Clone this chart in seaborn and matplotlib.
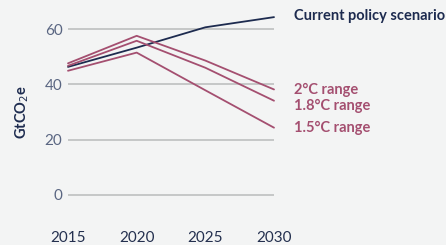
import pandas as pd
import matplotlib.pyplot as plt
import seaborn as sns

years = [2015, 2020, 2025, 2030]
current_policy = [46.4, 53.4, 60.8, 64.5]
range_2c = [47.7, 57.7, 48.7, 38.2]
range_18c = [46.8, 55.9, 46.1, 34.1]
range_15c = [45.0, 51.6, 37.9, 24.3]

series_names = ["Current policy scenario", "2°C range", "1.8°C range", "1.5°C range"]

navy = "#1d2b4f"
pink = "#a44f70"
bg = "#f3f4f4"

sns.set_theme(style="white")
plt.rcParams["font.family"] = ["Lato", "DejaVu Sans"]

df = pd.DataFrame({
    "year": years * 4,
    "value": current_policy + range_2c + range_18c + range_15c,
    "series": [s for s in series_names for _ in years],
})
palette = {series_names[0]: navy, series_names[1]: pink,
           series_names[2]: pink, series_names[3]: pink}

fig = plt.figure(figsize=(4.46, 2.45), dpi=100, facecolor=bg)
ax = fig.add_axes([68 / 446, 23 / 245, 206 / 446, 220 / 245])
ax.set_facecolor(bg)

for y in [0, 20, 40, 60]:
    ax.axhline(y, color="#b9bbbb", linewidth=1.1, zorder=0)

sns.lineplot(data=df, x="year", y="value", hue="series", palette=palette,
             linewidth=1.3, legend=False, ax=ax, clip_on=False)

ax.set_xlim(2015, 2030)
ax.set_ylim(-10, 70)
ax.set_xticks(years)
ax.set_yticks([0, 20, 40, 60])
ax.tick_params(axis="x", length=0, pad=6.5, labelsize=11, labelcolor="#24304f")
ax.tick_params(axis="y", length=0, pad=4, labelsize=11, labelcolor="#5a6682")
sns.despine(ax=ax, left=True, bottom=True)
ax.set_xlabel("")
ax.set_ylabel("GtCO$_2$e", color=navy, fontsize=10.5, fontweight="bold", labelpad=10)

# Etiketten rechts neben den Linien
label_px_y = [16, 90, 106, 128]
for name, py in zip(series_names, label_px_y):
    color = navy if name.startswith("Current") else pink
    fig.text(294 / 446, 1 - py / 245, name, color=color, fontsize=10.5,
             fontweight="bold", va="center", ha="left")

fig.savefig("out.png", dpi=100, facecolor=bg)
